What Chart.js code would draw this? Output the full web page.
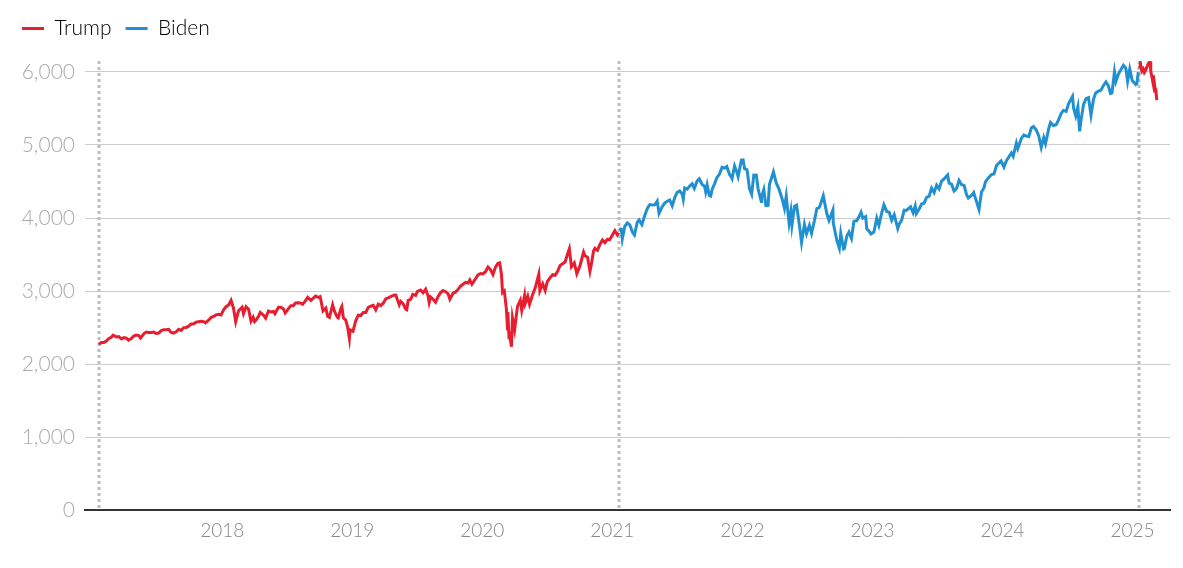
<!DOCTYPE html>
<html>
<head>
<meta charset="utf-8">
<script src="https://cdn.jsdelivr.net/npm/chart.js@4"></script>
<style>
  body { margin: 0; background: #fff; }
  #wrap { width: 1183px; height: 568px; }
</style>
</head>
<body>
<div id="wrap"><canvas id="chart" width="1183" height="568"></canvas></div>
<script>
// S&P 500, close
const trump1Dates = [
  "2017-01-20","2017-01-27","2017-02-03","2017-02-10","2017-02-17","2017-02-24","2017-03-01","2017-03-10","2017-03-17","2017-03-24",
  "2017-03-31","2017-04-07","2017-04-13","2017-04-21","2017-04-28","2017-05-05","2017-05-12","2017-05-17","2017-05-26","2017-06-02",
  "2017-06-09","2017-06-16","2017-06-23","2017-06-29","2017-07-07","2017-07-14","2017-07-21","2017-07-28","2017-08-04","2017-08-10",
  "2017-08-18","2017-08-25","2017-09-01","2017-09-08","2017-09-15","2017-09-22","2017-09-29","2017-10-06","2017-10-13","2017-10-20",
  "2017-10-27","2017-11-03","2017-11-10","2017-11-15","2017-11-24","2017-12-01","2017-12-08","2017-12-15","2017-12-22","2017-12-29",
  "2018-01-05","2018-01-12","2018-01-19","2018-01-26","2018-02-02","2018-02-08","2018-02-16","2018-02-26","2018-03-02","2018-03-09",
  "2018-03-16","2018-03-23","2018-03-29","2018-04-02","2018-04-06","2018-04-13","2018-04-18","2018-04-27","2018-05-03","2018-05-11",
  "2018-05-18","2018-05-25","2018-05-29","2018-06-08","2018-06-15","2018-06-22","2018-06-27","2018-07-06","2018-07-13","2018-07-20",
  "2018-07-26","2018-08-03","2018-08-10","2018-08-15","2018-08-24","2018-08-29","2018-09-07","2018-09-14","2018-09-20","2018-09-28",
  "2018-10-03","2018-10-11","2018-10-19","2018-10-24","2018-10-29","2018-11-07","2018-11-12","2018-11-20","2018-11-23","2018-11-30",
  "2018-12-03","2018-12-07","2018-12-14","2018-12-19","2018-12-24","2018-12-26","2019-01-03","2019-01-11","2019-01-18","2019-01-25",
  "2019-02-01","2019-02-08","2019-02-15","2019-02-22","2019-03-01","2019-03-08","2019-03-15","2019-03-22","2019-03-29","2019-04-05",
  "2019-04-12","2019-04-23","2019-04-30","2019-05-03","2019-05-13","2019-05-17","2019-05-24","2019-05-31","2019-06-03","2019-06-07",
  "2019-06-14","2019-06-20","2019-06-28","2019-07-03","2019-07-12","2019-07-19","2019-07-26","2019-08-02","2019-08-05","2019-08-09",
  "2019-08-16","2019-08-23","2019-08-30","2019-09-06","2019-09-13","2019-09-20","2019-09-27","2019-10-02","2019-10-11","2019-10-18",
  "2019-10-25","2019-11-01","2019-11-08","2019-11-15","2019-11-22","2019-11-27","2019-12-03","2019-12-13","2019-12-20","2019-12-27",
  "2020-01-03","2020-01-10","2020-01-17","2020-01-24","2020-01-31","2020-02-07","2020-02-14","2020-02-19","2020-02-24","2020-02-27",
  "2020-03-03","2020-03-09","2020-03-12","2020-03-13","2020-03-16","2020-03-18","2020-03-23","2020-03-26","2020-04-01","2020-04-09",
  "2020-04-17","2020-04-21","2020-04-29","2020-05-01","2020-05-08","2020-05-13","2020-05-22","2020-05-29","2020-06-08","2020-06-11",
  "2020-06-19","2020-06-26","2020-07-02","2020-07-10","2020-07-17","2020-07-24","2020-07-31","2020-08-07","2020-08-14","2020-08-21",
  "2020-08-28","2020-09-02","2020-09-08","2020-09-16","2020-09-23","2020-10-02","2020-10-12","2020-10-16","2020-10-23","2020-10-30",
  "2020-11-03","2020-11-09","2020-11-13","2020-11-20","2020-11-27","2020-12-04","2020-12-11","2020-12-18","2020-12-24","2020-12-31",
  "2021-01-08","2021-01-15","2021-01-19"
];
const trump1Values = [
  2271,2295,2297,2316,2351,2367,2396,2373,2378,2344,
  2363,2355,2329,2349,2384,2399,2391,2357,2416,2439,
  2432,2433,2438,2419,2425,2459,2472,2472,2476,2438,
  2425,2443,2476,2461,2500,2502,2519,2549,2553,2575,
  2581,2587,2582,2564,2602,2642,2651,2675,2683,2674,
  2743,2786,2810,2873,2762,2581,2732,2780,2691,2786,
  2752,2588,2641,2582,2604,2656,2708,2670,2630,2728,
  2713,2721,2690,2779,2780,2755,2699,2760,2801,2802,
  2837,2840,2833,2818,2875,2914,2872,2905,2931,2914,
  2925,2728,2768,2656,2641,2813,2726,2642,2633,2760,
  2790,2633,2600,2507,2351,2468,2448,2596,2671,2665,
  2707,2708,2776,2793,2804,2743,2822,2801,2834,2893,
  2907,2934,2946,2946,2812,2860,2826,2752,2744,2873,
  2887,2954,2942,2996,3014,2977,3026,2932,2844,2919,
  2889,2847,2926,2979,3007,2992,2962,2888,2970,2986,
  3023,3067,3093,3120,3110,3153,3093,3169,3221,3240,
  3235,3265,3330,3295,3226,3328,3380,3386,3226,2979,
  3003,2747,2481,2711,2386,2398,2237,2630,2470,2790,
  2875,2737,2940,2831,2930,2820,2955,3044,3232,3002,
  3098,3009,3130,3185,3225,3216,3271,3351,3373,3397,
  3508,3580,3332,3385,3237,3348,3534,3483,3465,3270,
  3369,3550,3585,3557,3638,3699,3663,3709,3703,3756,
  3825,3768,3799
];

const bidenDates = [
  "2021-01-20","2021-01-26","2021-01-29","2021-02-05","2021-02-12","2021-02-19","2021-02-26","2021-03-04","2021-03-12","2021-03-17",
  "2021-03-25","2021-04-01","2021-04-09","2021-04-16","2021-04-23","2021-04-30","2021-05-07","2021-05-12","2021-05-21","2021-05-28",
  "2021-06-04","2021-06-11","2021-06-18","2021-06-25","2021-07-02","2021-07-09","2021-07-16","2021-07-19","2021-07-23","2021-07-30",
  "2021-08-06","2021-08-13","2021-08-19","2021-08-27","2021-09-02","2021-09-10","2021-09-17","2021-09-20","2021-09-24","2021-09-30",
  "2021-10-04","2021-10-08","2021-10-15","2021-10-21","2021-10-29","2021-11-05","2021-11-12","2021-11-18","2021-11-26","2021-11-30",
  "2021-12-03","2021-12-10","2021-12-17","2021-12-20","2021-12-29","2022-01-03","2022-01-07","2022-01-14","2022-01-21","2022-01-27",
  "2022-02-02","2022-02-09","2022-02-14","2022-02-23","2022-02-24","2022-03-02","2022-03-08","2022-03-14","2022-03-18","2022-03-29",
  "2022-04-06","2022-04-14","2022-04-22","2022-04-29","2022-05-04","2022-05-12","2022-05-17","2022-05-20","2022-05-27","2022-06-02",
  "2022-06-10","2022-06-16","2022-06-24","2022-06-30","2022-07-08","2022-07-14","2022-07-22","2022-07-29","2022-08-05","2022-08-16",
  "2022-08-19","2022-08-26","2022-09-01","2022-09-12","2022-09-13","2022-09-23","2022-09-30","2022-10-04","2022-10-12","2022-10-14",
  "2022-10-21","2022-10-27","2022-11-03","2022-11-10","2022-11-18","2022-11-25","2022-11-30","2022-12-05","2022-12-13","2022-12-16",
  "2022-12-22","2022-12-28","2023-01-05","2023-01-13","2023-01-19","2023-01-27","2023-02-02","2023-02-10","2023-02-17","2023-02-24",
  "2023-03-03","2023-03-13","2023-03-17","2023-03-24","2023-03-31","2023-04-06","2023-04-18","2023-04-25","2023-05-01","2023-05-04",
  "2023-05-12","2023-05-19","2023-05-26","2023-06-02","2023-06-09","2023-06-16","2023-06-23","2023-06-30","2023-07-07","2023-07-14",
  "2023-07-21","2023-07-31","2023-08-04","2023-08-11","2023-08-18","2023-08-25","2023-09-01","2023-09-08","2023-09-15","2023-09-22",
  "2023-09-27","2023-10-06","2023-10-12","2023-10-20","2023-10-27","2023-11-03","2023-11-10","2023-11-14","2023-11-24","2023-12-01",
  "2023-12-08","2023-12-15","2023-12-22","2023-12-28","2024-01-05","2024-01-12","2024-01-19","2024-01-26","2024-01-31","2024-02-09",
  "2024-02-13","2024-02-23","2024-03-01","2024-03-08","2024-03-15","2024-03-22","2024-03-28","2024-04-05","2024-04-12","2024-04-19",
  "2024-04-26","2024-05-01","2024-05-10","2024-05-15","2024-05-23","2024-05-31","2024-06-07","2024-06-14","2024-06-20","2024-06-28",
  "2024-07-05","2024-07-16","2024-07-19","2024-07-25","2024-07-31","2024-08-05","2024-08-09","2024-08-16","2024-08-23","2024-08-30",
  "2024-09-06","2024-09-13","2024-09-19","2024-09-27","2024-10-04","2024-10-11","2024-10-18","2024-10-25","2024-10-31","2024-11-04",
  "2024-11-11","2024-11-15","2024-11-22","2024-11-29","2024-12-06","2024-12-13","2024-12-18","2024-12-24","2024-12-31","2025-01-10",
  "2025-01-13","2025-01-17"
];
const bidenValues = [
  3851,3849,3714,3887,3934,3907,3811,3768,3943,3974,
  3910,4020,4129,4185,4180,4181,4232,4063,4156,4204,
  4230,4247,4166,4281,4352,4370,4327,4258,4412,4395,
  4437,4468,4405,4509,4537,4459,4433,4358,4455,4308,
  4300,4391,4471,4549,4605,4697,4683,4705,4595,4567,
  4538,4712,4620,4568,4793,4796,4677,4662,4398,4326,
  4589,4587,4401,4225,4288,4387,4170,4173,4463,4631,
  4481,4392,4272,4132,4300,3930,4088,3901,4158,4176,
  3901,3666,3912,3785,3899,3790,3962,4130,4145,4305,
  4228,4058,3966,4110,3933,3693,3586,3791,3577,3583,
  3752,3807,3720,3956,3965,4026,4080,3999,4020,3852,
  3822,3783,3808,3999,3899,4070,4180,4090,4079,3970,
  4045,3855,3917,3971,4109,4105,4154,4071,4167,4061,
  4124,4192,4205,4282,4299,4410,4348,4450,4399,4505,
  4536,4589,4478,4464,4370,4406,4515,4457,4450,4320,
  4274,4308,4349,4224,4117,4358,4415,4495,4559,4595,
  4604,4719,4754,4783,4697,4784,4840,4891,4846,5026,
  4953,5089,5137,5124,5117,5234,5254,5204,5123,4967,
  5100,5018,5223,5308,5267,5278,5347,5432,5473,5460,
  5567,5667,5505,5399,5522,5186,5344,5554,5634,5648,
  5408,5626,5713,5738,5751,5815,5864,5808,5705,5712,
  6001,5870,5969,6032,6090,6051,5872,6040,5882,5827,
  5836,5997
];

const trump2Dates = [
  "2025-01-21","2025-01-23","2025-01-27","2025-01-31","2025-02-03","2025-02-07","2025-02-14","2025-02-19","2025-02-21","2025-02-27",
  "2025-02-28","2025-03-03","2025-03-06","2025-03-07","2025-03-10"
];
const trump2Values = [
  6049,6119,6012,6041,5994,6026,6115,6144,6013,5861,
  5955,5849,5739,5770,5614
];

const inaugurations = ["2017-01-20", "2021-01-20", "2025-01-20"];
const yearTicks = [2018, 2019, 2020, 2021, 2022, 2023, 2024, 2025];
const valueTicks = [0, 1000, 2000, 3000, 4000, 5000, 6000];

const RED = "#e61e30";
const BLUE = "#2190d0";

// date string -> decimal year
function toYear(s) {
  const d = Date.parse(s + "T00:00:00Z");
  const y = Number(s.slice(0, 4));
  const a = Date.UTC(y, 0, 1), b = Date.UTC(y + 1, 0, 1);
  return y + (d - a) / (b - a);
}
const toPoints = (dates, vals) => dates.map((d, i) => ({ x: toYear(d), y: vals[i] }));

const lineDs = (label, dates, vals, color) => ({
  label,
  data: toPoints(dates, vals),
  borderColor: color,
  backgroundColor: color,
  borderWidth: 3,
  pointRadius: 0,
  tension: 0,
  fill: false
});

// grey dotted lines at each inauguration
const dottedLines = {
  id: "dottedLines",
  beforeDatasetsDraw(chart) {
    const { ctx, chartArea, scales } = chart;
    ctx.save();
    ctx.strokeStyle = "#bdbdbd";
    ctx.lineWidth = 3;
    ctx.setLineDash([3, 3]);
    inaugurations.forEach(d => {
      const x = Math.round(scales.x.getPixelForValue(toYear(d)));
      ctx.beginPath();
      ctx.moveTo(x, chartArea.top);
      ctx.lineTo(x, chartArea.bottom);
      ctx.stroke();
    });
    ctx.restore();
  }
};

// a bit more room under the legend
const legendGap = {
  id: "legendGap",
  beforeInit(chart) {
    const fit = chart.legend.fit;
    chart.legend.fit = function () {
      fit.call(this);
      this.height += 12;
    };
  }
};

new Chart(document.getElementById("chart"), {
  type: "line",
  data: {
    datasets: [
      lineDs("Trump", trump1Dates, trump1Values, RED),
      lineDs("Biden", bidenDates, bidenValues, BLUE),
      lineDs("Trump ", trump2Dates, trump2Values, RED)
    ]
  },
  options: {
    responsive: false,
    animation: false,
    layout: { padding: { left: 8, right: 13, top: 4, bottom: 17 } },
    plugins: {
      tooltip: { enabled: false },
      legend: {
        align: "start",
        labels: {
          boxWidth: 22,
          boxHeight: 3,
          padding: 14,
          color: "#3a3a3a",
          font: { family: "Lato", size: 21, weight: "300" },
          generateLabels: chart => chart.data.datasets.slice(0, 2).map((ds, i) => ({
            text: ds.label,
            fillStyle: ds.borderColor,
            strokeStyle: ds.borderColor,
            lineWidth: 0,
            datasetIndex: i,
            hidden: false
          }))
        }
      }
    },
    scales: {
      x: {
        type: "linear",
        min: toYear("2016-12-12"),
        max: toYear("2025-04-16"),
        afterBuildTicks: s => { s.ticks = yearTicks.map(v => ({ value: v })); },
        grid: { display: false, drawTicks: false },
        border: { color: "#333", width: 2 },
        ticks: {
          padding: 9,
          color: "#888888",
          font: { family: "Lato", size: 19, weight: "300" },
          maxRotation: 0,
          callback: v => String(v)
        }
      },
      y: {
        min: 0,
        max: 6150,
        afterBuildTicks: s => { s.ticks = valueTicks.map(v => ({ value: v })); },
        afterFit: s => { s.width = 77; },
        grid: {
          drawTicks: false,
          color: c => (c.tick && c.tick.value === 0 ? "rgba(0,0,0,0)" : "#cccccc"),
          lineWidth: 1
        },
        border: { display: false },
        ticks: {
          padding: 10,
          color: "#aaaaaa",
          font: { family: "Lato", size: 21, weight: "300" },
          callback: v => v.toLocaleString("en-US")
        }
      }
    }
  },
  plugins: [dottedLines, legendGap]
});
</script>
</body>
</html>
